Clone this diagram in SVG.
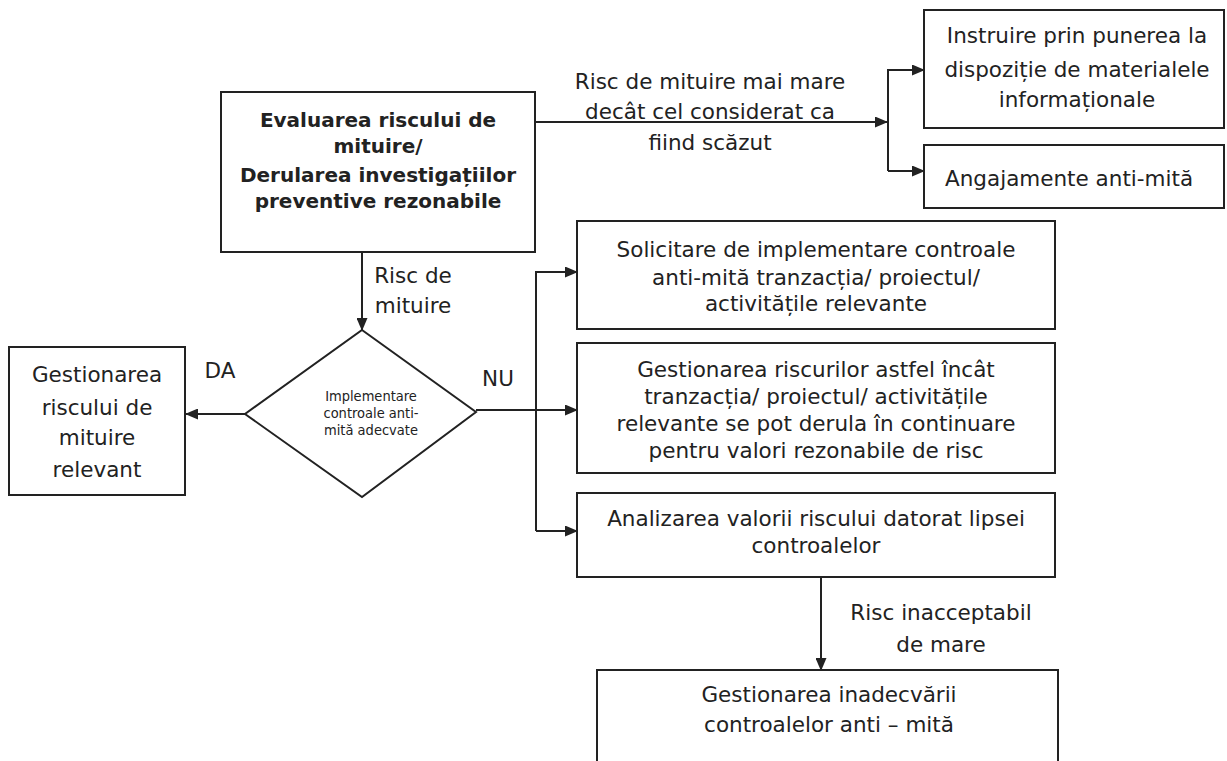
<svg xmlns="http://www.w3.org/2000/svg" width="1227" height="761" viewBox="0 0 1227 761">
<defs>
<marker id="ah" markerWidth="13" markerHeight="11" refX="12" refY="5.5" orient="auto" markerUnits="userSpaceOnUse">
<path d="M0,0 L13,5.5 L0,11 Z" fill="#222"/>
</marker>
<style>
.box{fill:#fff;stroke:#222;stroke-width:2}
.t{font-family:"DejaVu Sans","Liberation Sans",sans-serif;font-size:21.5px;fill:#222;text-anchor:middle}
.b{font-weight:bold;font-size:20px}
.s{font-family:"DejaVu Sans Condensed","DejaVu Sans",sans-serif;font-size:14.5px}
.ln{fill:none;stroke:#222;stroke-width:2}
</style>
</defs>
<rect width="1227" height="761" fill="#fff"/>
<g id="connectors">
<path class="ln" d="M535,122 L887,122" marker-end="url(#ah)"/>
<path class="ln" d="M888,171 L888,70 L924,70" marker-end="url(#ah)"/>
<path class="ln" d="M888,171 L924,171" marker-end="url(#ah)"/>
<path class="ln" d="M362,252 L362,330" marker-end="url(#ah)"/>
<path class="ln" d="M245,414 L186,414" marker-end="url(#ah)"/>
<path class="ln" d="M476,410 L577,410" marker-end="url(#ah)"/>
<path class="ln" d="M536,531 L536,272 L577,272" marker-end="url(#ah)"/>
<path class="ln" d="M536,531 L577,531" marker-end="url(#ah)"/>
<path class="ln" d="M821,577 L821,670" marker-end="url(#ah)"/>
<text class="t" x="710" y="89">Risc de mituire mai mare</text>
<text class="t" x="710" y="119">decât cel considerat ca</text>
<text class="t" x="710" y="150">fiind scăzut</text>
<text class="t" x="413" y="283">Risc de</text>
<text class="t" x="413" y="313">mituire</text>
<text class="t" x="220" y="378">DA</text>
<text class="t" x="498" y="386">NU</text>
<text class="t" x="941" y="620">Risc inacceptabil</text>
<text class="t" x="941" y="652">de mare</text>
</g>
<g id="n-evaluare">
<rect class="box" x="221" y="92" width="314" height="160"/>
<text class="t b" x="378" y="127">Evaluarea riscului de</text>
<text class="t b" x="378" y="153">mituire/</text>
<text class="t b" x="378" y="182">Derularea investigațiilor</text>
<text class="t b" x="378" y="208">preventive rezonabile</text>
</g>
<g id="n-instruire">
<rect class="box" x="924" y="10" width="300" height="118"/>
<text class="t" x="1077" y="43">Instruire prin punerea la</text>
<text class="t" x="1077" y="77">dispoziție de materialele</text>
<text class="t" x="1077" y="107">informaționale</text>
</g>
<g id="n-angajamente">
<rect class="box" x="924" y="145" width="300" height="63"/>
<text class="t" x="945" y="186" style="text-anchor:start">Angajamente anti-mită</text>
</g>
<g id="n-decizie">
<polygon class="box" points="362,330 476,412 362,497 245,414"/>
<text class="t s" x="371" y="401">Implementare</text>
<text class="t s" x="371" y="418">controale anti-</text>
<text class="t s" x="371" y="435">mită adecvate</text>
</g>
<g id="n-gestionare-relevant">
<rect class="box" x="9" y="347" width="176" height="148"/>
<text class="t" x="97" y="382">Gestionarea</text>
<text class="t" x="97" y="415">riscului de</text>
<text class="t" x="97" y="445">mituire</text>
<text class="t" x="97" y="477">relevant</text>
</g>
<g id="n-solicitare">
<rect class="box" x="577" y="221" width="478" height="108"/>
<text class="t" x="816" y="257">Solicitare de implementare controale</text>
<text class="t" x="816" y="285">anti-mită tranzacția/ proiectul/</text>
<text class="t" x="816" y="311">activitățile relevante</text>
</g>
<g id="n-gestionare-riscuri">
<rect class="box" x="577" y="343" width="478" height="130"/>
<text class="t" x="816" y="377">Gestionarea riscurilor astfel încât</text>
<text class="t" x="816" y="404">tranzacția/ proiectul/ activitățile</text>
<text class="t" x="816" y="431">relevante se pot derula în continuare</text>
<text class="t" x="816" y="458">pentru valori rezonabile de risc</text>
</g>
<g id="n-analizare">
<rect class="box" x="577" y="493" width="478" height="84"/>
<text class="t" x="816" y="526">Analizarea valorii riscului datorat lipsei</text>
<text class="t" x="816" y="553">controalelor</text>
</g>
<g id="n-inadecvare">
<rect class="box" x="597" y="670" width="461" height="110"/>
<text class="t" x="829" y="702">Gestionarea inadecvării</text>
<text class="t" x="829" y="732">controalelor anti – mită</text>
</g>
</svg>
